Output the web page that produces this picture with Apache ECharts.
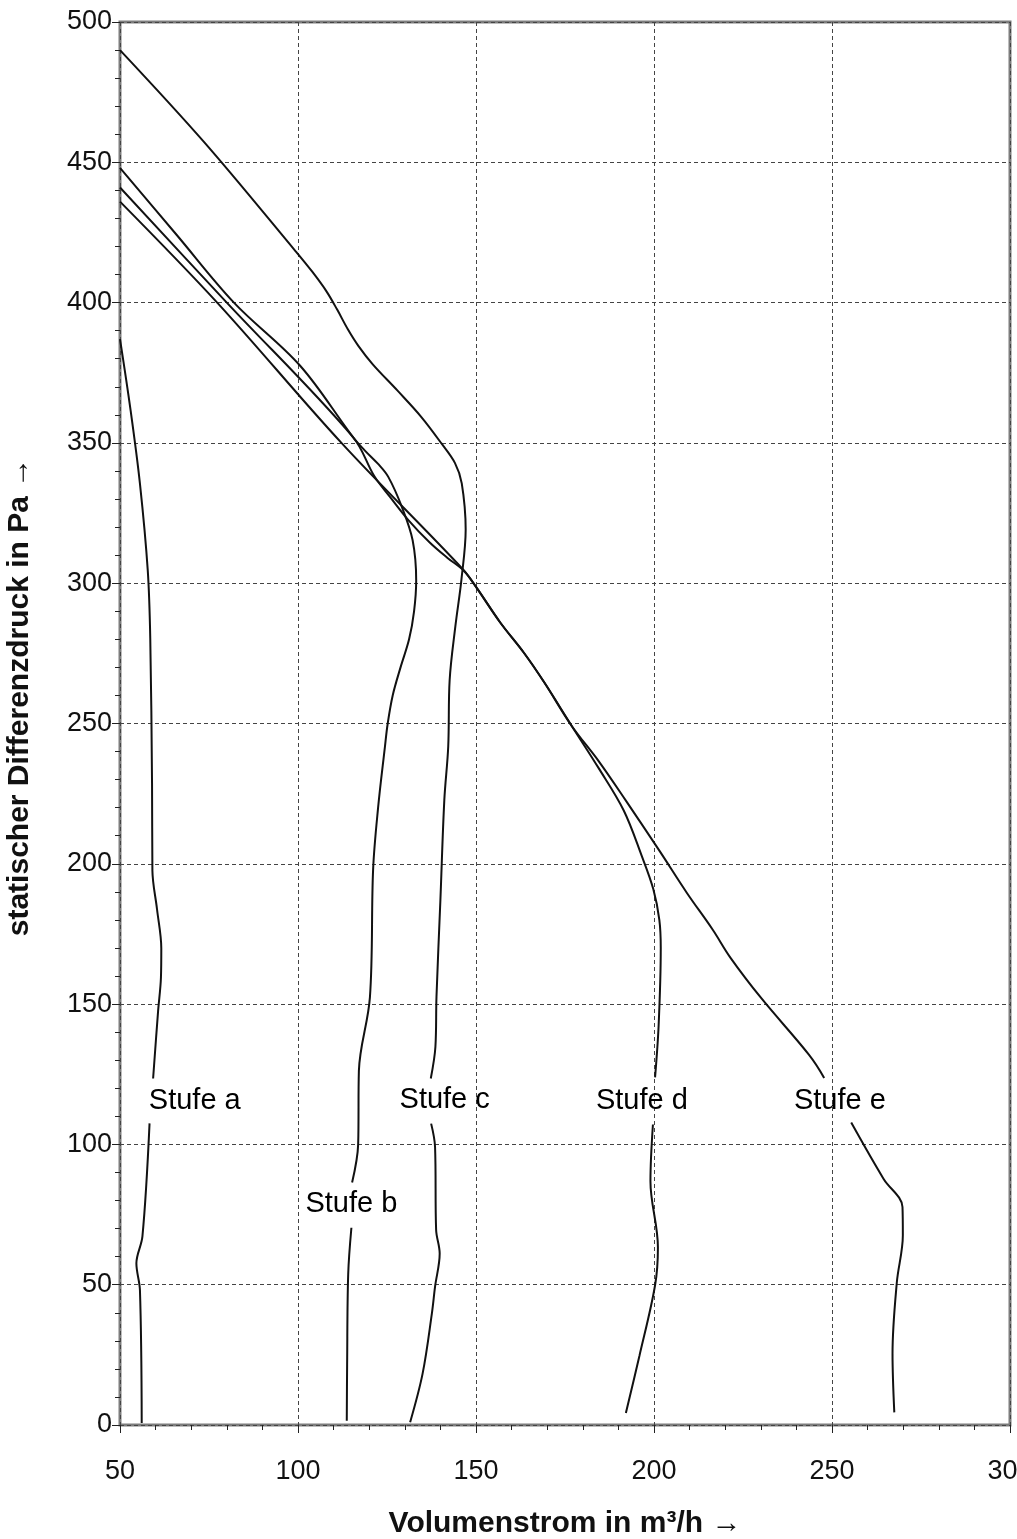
<!DOCTYPE html>
<html>
<head>
<meta charset="utf-8">
<script src="https://cdn.jsdelivr.net/npm/echarts@6/dist/echarts.min.js"></script>
<style>
html,body{margin:0;padding:0;background:#fff;}
#chart{width:1017px;height:1539px;}
</style>
</head>
<body>
<div id="chart"></div>
<script>
// x: Volumenstrom in m³/h, y: statischer Differenzdruck in Pa
var xTicks = [50, 100, 150, 200, 250, 300];
var yTicks = [0, 50, 100, 150, 200, 250, 300, 350, 400, 450, 500];

var aUpper = [[50,387],[53,361.4],[55.6,335.5],[57.8,304.5],[58.5,280.4],[59,228.6],[59.1,197.6],[60.4,183.8],[61.6,169.9],[61.5,159.5],[60.7,147.5],[59.3,123.5]];
var aLower = [[58.3,107.5],[56.3,67.2],[54.6,57.6],[55.6,48.1],[56.1,0.7]];

var bUpper = [[50,448],[66,424],[82,400],[100.6,377.5],[115.5,352],[119,347],[122.5,342.5],[125.4,337.8],[129.2,327.1],[132.2,315.3],[133.2,301],[132.6,290],[131.2,280],[128.8,270],[126.6,260],[125.2,250],[124.4,241.5],[122.5,220],[121.1,198],[120.2,152.4],[117.1,126.2],[116.9,100],[115.2,86.4]];
var bLower = [[115,70.3],[114.1,53.7],[113.8,21.6],[113.7,1.5]];

var cUpper = [[50,490],[73.7,457.1],[99.4,418.2],[104,411],[108,404],[111,397.5],[114,390.5],[117,384.5],[121,378],[127.9,368.7],[134.6,359.3],[140.3,349.8],[144.1,342.8],[146,335.6],[147.1,319.1],[145.9,301.2],[144.2,284.6],[142.6,265.5],[142.2,241.8],[141.1,222.7],[140,187.1],[138.9,152.6],[138.6,134.8],[137.3,123.5]];
var cLower = [[137.4,107.4],[138.5,99.1],[138.8,69.5],[139.8,61.1],[138.5,49.3],[137.6,39.7],[135,18.3],[131.5,1]];

var dUpper = [[50,441],[80,400],[115.5,352],[121.5,338],[126,330.5],[131,322.5],[137,314.5],[142,309],[146.5,304.5],[150.1,298.5],[156.8,286],[163.4,275.3],[169.2,264.6],[176.8,249.3],[184.5,234],[191.5,219],[196.5,203],[199.8,191],[201.5,180],[201.9,170],[201.3,142.4],[200.3,123.9]];
var dLower = [[199.7,107.1],[199,86.9],[201.1,63.3],[200.3,49.8],[195.9,24.6],[192.1,4.3]];

var eUpper = [[50,436],[77.3,400],[112.2,350],[146.3,305],[150.1,298.5],[156.8,286],[163.4,275.3],[169.2,264.6],[176.8,249.3],[184.5,236.5],[192.1,222.5],[201.6,204.5],[209.2,189.7],[216.5,176.5],[221.5,166.5],[230.2,152],[243.5,132],[247.8,123.7]];
var eLower = [[255.4,107.8],[264.5,87.7],[269.8,77.7],[269.9,67.6],[268.2,50.7],[267,25.4],[267.5,4.5]];

var stufeNames = ['Stufe a','Stufe b','Stufe c','Stufe d','Stufe e'];
var stufeLabelPos = [[71.0,115.5],[115.0,78.6],[141.2,115.7],[196.6,115.6],[252.2,115.6]];

var curves = [aUpper,aLower,bUpper,bLower,cUpper,cLower,dUpper,dLower,eUpper,eLower];

var chart = echarts.init(document.getElementById('chart'), null, {renderer:'canvas'});
var font = '"Liberation Sans", Arial, sans-serif';

var series = curves.map(function(d){
  return {
    type:'line', data:d, smooth:0.35, symbol:'none',
    lineStyle:{color:'#111', width:2}, z:3, silent:true
  };
});
series.push({
  type:'scatter', symbolSize:0, z:4,
  itemStyle:{opacity:1, color:'#000'},
  data: stufeNames.map(function(n,i){ return {name:n, value:stufeLabelPos[i]}; }),
  label:{show:true, position:'inside', formatter:'{b}', color:'#000', opacity:1, textBorderWidth:0, fontSize:29, fontFamily:font}
});

chart.setOption({
  animation:false,
  backgroundColor:'#fff',
  grid:{left:120, right:7, top:22, bottom:114, show:true, borderColor:'#7d7d7d', borderWidth:3, containLabel:false, outerBoundsMode:'none'},
  xAxis:{
    type:'value', min:50, max:300, interval:50,
    name:'Volumenstrom in m³/h →', nameLocation:'middle', nameGap:84,
    nameTextStyle:{fontSize:30, fontWeight:'bold', color:'#111', fontFamily:font},
    axisLine:{show:false},
    axisTick:{show:true, length:8, lineStyle:{color:'#222'}},
    minorTick:{show:true, splitNumber:5, length:5, lineStyle:{color:'#222'}},
    axisLabel:{fontSize:27, color:'#111', margin:33, fontFamily:font, showMaxLabel:true},
    splitLine:{show:true, lineStyle:{color:'#444', type:[4,3], width:1}}
  },
  yAxis:{
    type:'value', min:0, max:500, interval:50,
    axisLine:{show:false},
    axisTick:{show:true, length:8, lineStyle:{color:'#222'}},
    minorTick:{show:true, splitNumber:5, length:5, lineStyle:{color:'#222'}},
    axisLabel:{fontSize:27, color:'#111', margin:8, fontFamily:font},
    splitLine:{show:true, lineStyle:{color:'#444', type:[4,3], width:1}}
  },
  graphic:[{
    type:'text', x:20, y:697, rotation:Math.PI/2,
    style:{text:'statischer Differenzdruck in Pa →', fontSize:30, fontWeight:'bold', fill:'#111', fontFamily:font, align:'center', verticalAlign:'middle'}
  }],
  series:series
});
</script>
</body>
</html>
